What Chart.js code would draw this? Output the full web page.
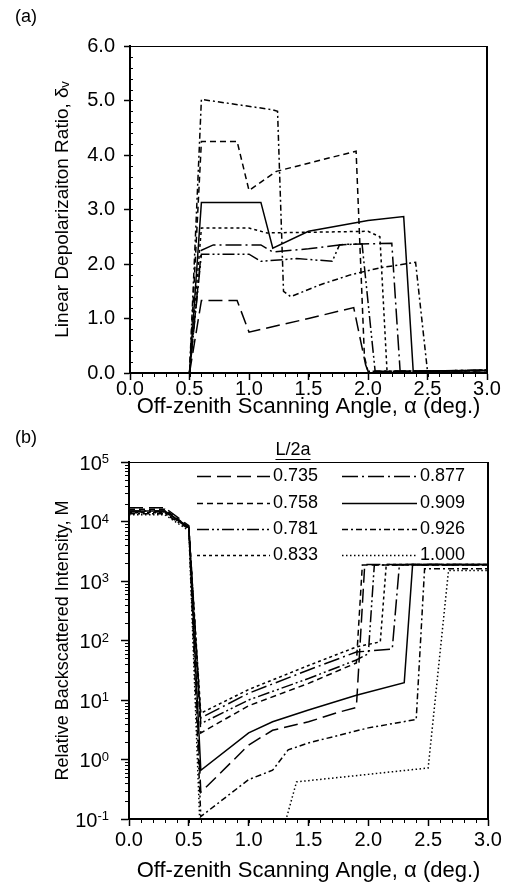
<!DOCTYPE html>
<html>
<head>
<meta charset="utf-8">
<title>Depolarization ratio and backscattered intensity</title>
<script src="https://cdn.jsdelivr.net/npm/chart.js@4/dist/chart.umd.min.js"></script>
<style>
	body { margin: 0; width: 509px; height: 886px; background: #fff; position: relative; overflow: hidden; font-family: "Liberation Sans", Arial, sans-serif; }
	canvas { position: absolute; left: 0; }
	#chartA { top: 0; }
	#chartB { top: 420px; }
	.tag { position: absolute; left: 15px; font-size: 18px; line-height: 20px; color: #000; }
</style>
</head>
<body>
<canvas id="chartA" width="509" height="420"></canvas>
<canvas id="chartB" width="509" height="466"></canvas>
<div class="tag" style="top:6px">(a)</div>
<div class="tag" style="top:427px">(b)</div>
<script>
const xTicks = [0, 0.5, 1, 1.5, 2, 2.5, 3]
const ratioTicks = [0, 1, 2, 3, 4, 5, 6]
const intensityTicks = [0.1, 1, 10, 100, 1000, 10000, 100000]
const intensityPowers = ["-1", "0", "1", "2", "3", "4", "5"]

const sizes = ["0.735", "0.758", "0.781", "0.833", "0.877", "0.909", "0.926", "1.000"]
const dashes = [[14, 6], [6, 4], [12, 3, 2, 3, 2, 3], [3, 3], [16, 4, 2, 4], [], [6, 3, 2, 3], [1.5, 2.5]]

// (a) linear depolarization ratio
const dep735x = [0, 0.5, 0.6, 0.9, 1.0, 1.1, 1.5, 1.88, 1.98, 2.0, 3.0]
const dep735y = [0, 0, 1.33, 1.33, 0.75, 0.8, 1.0, 1.2, 0.15, 0.03, 0.04]
const dep758x = [0, 0.5, 0.6, 0.9, 1.0, 1.23, 1.5, 1.9, 1.97, 2.0, 3.0]
const dep758y = [0, 0, 4.25, 4.25, 3.35, 3.7, 3.85, 4.07, 0.3, 0.03, 0.04]
const dep781x = [0, 0.5, 0.6, 1.0, 1.1, 1.4, 1.7, 1.76, 1.95, 2.06, 3.0]
const dep781y = [0, 0, 2.18, 2.18, 2.05, 2.1, 2.05, 2.35, 2.37, 0.03, 0.05]
const dep833x = [0, 0.5, 0.6, 1.0, 1.15, 2.0, 2.1, 2.16, 3.0]
const dep833y = [0, 0, 2.66, 2.66, 2.57, 2.6, 2.5, 0.03, 0.05]
const dep877x = [0, 0.5, 0.6, 0.7, 1.1, 1.2, 1.5, 1.8, 2.2, 2.27, 3.0]
const dep877y = [0, 0, 2.25, 2.35, 2.35, 2.22, 2.28, 2.36, 2.38, 0.03, 0.05]
const dep909x = [0, 0.5, 0.6, 1.1, 1.2, 1.5, 2.0, 2.3, 2.38, 3.0]
const dep909y = [0, 0, 3.13, 3.13, 2.29, 2.6, 2.8, 2.87, 0.03, 0.05]
const dep926x = [0, 0.5, 0.6, 1.2, 1.24, 1.29, 1.35, 1.6, 1.85, 2.1, 2.4, 2.5, 3.0]
const dep926y = [0, 0, 5.02, 4.83, 4.8, 1.5, 1.4, 1.62, 1.8, 1.93, 2.03, 0.03, 0.05]

// (b) relative backscattered intensity
const int735x = [0, 0.3, 0.5, 0.6, 1.0, 1.2, 1.5, 1.76, 1.9, 1.97, 3.0]
const int735y = [17000, 17000, 8500, 0.28, 1.75, 3.1, 4.3, 6.3, 7.5, 1900, 1900]
const int758x = [0, 0.3, 0.5, 0.6, 1.0, 1.5, 1.9, 1.95, 3.0]
const int758y = [16000, 16000, 8000, 2.8, 8, 19, 42, 1850, 1850]
const int781x = [0, 0.3, 0.5, 0.6, 1.0, 1.5, 1.9, 2.0, 2.05, 3.0]
const int781y = [15000, 15000, 8000, 4.0, 10, 23, 47, 60, 1850, 1850]
const int833x = [0, 0.3, 0.5, 0.6, 1.0, 1.5, 1.9, 2.1, 2.15, 3.0]
const int833y = [14000, 14000, 7800, 6.0, 15, 38, 78, 95, 1900, 1900]
const int877x = [0, 0.3, 0.5, 0.6, 1.0, 1.5, 1.9, 2.2, 2.26, 3.0]
const int877y = [14500, 14500, 7800, 5.0, 13, 32, 64, 72, 1900, 1900]
const int909x = [0, 0.3, 0.5, 0.6, 1.0, 1.2, 1.5, 1.9, 2.3, 2.37, 3.0]
const int909y = [15000, 15000, 8000, 0.66, 2.8, 4.3, 6.8, 12, 19.5, 1900, 1900]
const int926x = [0, 0.3, 0.5, 0.6, 1.0, 1.2, 1.33, 1.5, 2.0, 2.4, 2.47, 3.0]
const int926y = [13500, 13500, 7500, 0.11, 0.46, 0.66, 1.45, 1.9, 3.4, 4.7, 1600, 1600]
const int1000x = [0, 0.3, 0.5, 0.6, 1.3, 1.4, 2.5, 2.67, 3.0]
const int1000y = [13000, 13000, 7000, 0.03, 0.08, 0.42, 0.72, 1500, 1500]

const depX = [dep735x, dep758x, dep781x, dep833x, dep877x, dep909x, dep926x]
const depY = [dep735y, dep758y, dep781y, dep833y, dep877y, dep909y, dep926y]
const intX = [int735x, int758x, int781x, int833x, int877x, int909x, int926x, int1000x]
const intY = [int735y, int758y, int781y, int833y, int877y, int909y, int926y, int1000y]

const family = '"Liberation Sans", Arial, sans-serif'
Chart.defaults.font.family = family
Chart.defaults.color = "#000"

function points(xs, ys) {
	return xs.map((x, i) => ({ x: x, y: ys[i] }))
}

function datasets(xs, ys) {
	return xs.map((x, i) => ({
		label: sizes[i],
		data: points(x, ys[i]),
		borderColor: "#000",
		borderWidth: 1.5,
		borderDash: dashes[i],
		pointRadius: 0,
		tension: 0,
		fill: false,
	}))
}

function minorValues(m) {
	const out = []
	if (m.log) {
		for (let d = m.min; d < m.max * 0.99; d *= 10)
			for (let k = 2; k < 10; k++) out.push(d * k)
	} else {
		for (let v = m.min; v <= m.max + 1e-9; v += m.step) out.push(v)
	}
	return out
}

// box frame and minor ticks
const frame = {
	id: "frame",
	afterDraw(chart, args, opts) {
		const { ctx, chartArea: a, scales } = chart
		ctx.save()
		ctx.strokeStyle = "#000"
		ctx.lineWidth = 1
		ctx.beginPath()
		ctx.moveTo(a.left, a.top + 0.5)
		ctx.lineTo(a.right, a.top + 0.5)
		ctx.stroke()
		ctx.lineWidth = 2
		ctx.beginPath()
		ctx.moveTo(a.right, a.top)
		ctx.lineTo(a.right, a.bottom + 1)
		ctx.stroke()
		ctx.lineWidth = 1
		for (const m of opts.minor || []) {
			const s = scales[m.axis]
			ctx.beginPath()
			for (const v of minorValues(m)) {
				const p = Math.round(s.getPixelForValue(v)) + 0.5
				if (m.axis == "x") {
					ctx.moveTo(p, a.bottom)
					ctx.lineTo(p, a.bottom + m.len)
				} else {
					ctx.moveTo(a.left, p)
					ctx.lineTo(a.left - m.len, p)
				}
			}
			ctx.stroke()
		}
		ctx.restore()
	},
}

// "10" with a raised exponent at each decade of the log axis
const powerLabels = {
	id: "powerLabels",
	afterDraw(chart, args, o) {
		const { ctx } = chart
		const s = chart.scales.y
		ctx.save()
		ctx.fillStyle = "#000"
		intensityTicks.forEach((v, i) => {
			const y = s.getPixelForValue(v)
			ctx.font = o.small + "px " + family
			const ew = ctx.measureText(intensityPowers[i]).width
			ctx.textAlign = "left"
			ctx.textBaseline = "alphabetic"
			ctx.fillText(intensityPowers[i], o.right - ew, y + 1)
			ctx.font = o.size + "px " + family
			ctx.textAlign = "right"
			ctx.textBaseline = "middle"
			ctx.fillText("10", o.right - ew, y + 2)
		})
		ctx.restore()
	},
}

// legend of panel (b), two columns under an underlined title
const legendBox = {
	id: "legendBox",
	afterDraw(chart, args, o) {
		const ctx = chart.ctx
		ctx.save()
		ctx.fillStyle = "#000"
		ctx.strokeStyle = "#000"
		ctx.font = o.size + "px " + family
		ctx.textBaseline = "middle"
		ctx.textAlign = "center"
		ctx.fillText(o.title, o.titleX, o.titleY)
		const w = ctx.measureText(o.title).width
		ctx.lineWidth = 1
		ctx.beginPath()
		ctx.moveTo(o.titleX - w / 2, o.titleY + 9.5)
		ctx.lineTo(o.titleX + w / 2, o.titleY + 9.5)
		ctx.stroke()
		ctx.textAlign = "left"
		chart.data.datasets.forEach((ds, i) => {
			const col = o.cols[Math.floor(i / o.rows.length)]
			const y = o.rows[i % o.rows.length]
			ctx.lineWidth = ds.borderWidth
			ctx.setLineDash(ds.borderDash)
			ctx.beginPath()
			ctx.moveTo(col.line, y + 0.5)
			ctx.lineTo(col.end, y + 0.5)
			ctx.stroke()
			ctx.setLineDash([])
			ctx.fillText(ds.label, col.text, y)
		})
		ctx.restore()
	},
}

function xAxis(height, labelPad, titlePad) {
	return {
		type: "linear",
		min: 0,
		max: 3,
		afterBuildTicks: s => { s.ticks = xTicks.map(v => ({ value: v })) },
		afterFit: s => { s.height = height },
		ticks: { callback: v => v.toFixed(1), font: { size: 20, lineHeight: 1 }, padding: labelPad, maxRotation: 0, autoSkip: false },
		grid: { drawOnChartArea: false, tickLength: 7, tickColor: "#000", tickWidth: 1.5 },
		border: { color: "#000", width: 2 },
		title: { display: true, text: "Off-zenith Scanning Angle, α (deg.)", font: { size: 22 }, padding: { top: 0, bottom: titlePad } },
	}
}

new Chart(document.getElementById("chartA"), {
	type: "line",
	data: { datasets: datasets(depX, depY) },
	options: {
		responsive: false,
		animation: false,
		layout: { padding: { top: 46, right: 22, left: 0, bottom: 0 } },
		plugins: {
			legend: { display: false },
			tooltip: { enabled: false },
			frame: { minor: [{ axis: "x", min: 0, max: 3, step: 0.1, len: 4 }, { axis: "y", min: 0, max: 6, step: 0.2, len: -3 }] },
		},
		scales: {
			x: xAxis(47, -1, 0),
			y: {
				type: "linear",
				min: 0,
				max: 6,
				afterBuildTicks: s => { s.ticks = ratioTicks.map(v => ({ value: v })) },
				afterFit: s => { s.width = 130 },
				ticks: { callback: v => v.toFixed(1), font: { size: 20 }, padding: 9 },
				grid: { drawOnChartArea: false, tickLength: 6, tickColor: "#000", tickWidth: 1.5 },
				border: { color: "#000", width: 2 },
				title: { display: true, text: "Linear Depolarizaiton Ratio, δᵥ", font: { size: 19 }, padding: { top: 51, bottom: 0 } },
			},
		},
	},
	plugins: [frame],
})

new Chart(document.getElementById("chartB"), {
	type: "line",
	data: { datasets: datasets(intX, intY) },
	options: {
		responsive: false,
		animation: false,
		layout: { padding: { top: 42, right: 21, left: 0, bottom: 0 } },
		plugins: {
			legend: { display: false },
			tooltip: { enabled: false },
			frame: { minor: [{ axis: "x", min: 0, max: 3, step: 0.1, len: 4 }, { axis: "y", log: true, min: 0.1, max: 100000, len: 4 }] },
			powerLabels: { right: 109, size: 20, small: 13 },
			legendBox: {
				title: "L/2a",
				size: 18,
				titleX: 293,
				titleY: 30,
				cols: [{ line: 197, end: 270, text: 273 }, { line: 342, end: 417, text: 420 }],
				rows: [56, 83, 109, 135],
			},
		},
		scales: {
			x: xAxis(67, 4, 2),
			y: {
				type: "logarithmic",
				min: 0.1,
				max: 100000,
				afterBuildTicks: s => { s.ticks = intensityTicks.map(v => ({ value: v })) },
				afterFit: s => { s.width = 129 },
				ticks: { display: false },
				grid: { drawOnChartArea: false, tickLength: 8, tickColor: "#000", tickWidth: 1.5 },
				border: { color: "#000", width: 2 },
				title: { display: true, text: "Relative Backscattered Intensity, M", font: { size: 18 }, padding: { top: 52, bottom: 0 } },
			},
		},
	},
	plugins: [frame, powerLabels, legendBox],
})
</script>
</body>
</html>
